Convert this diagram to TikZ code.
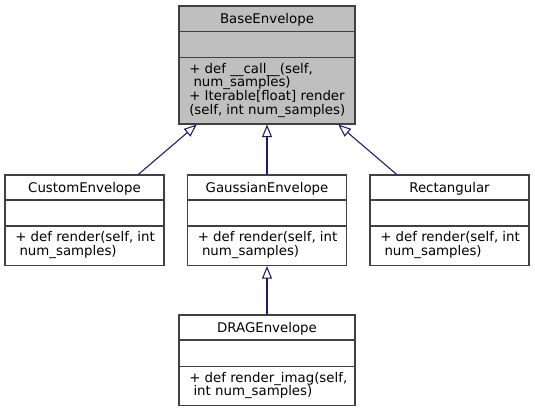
\documentclass[tikz,border=0pt]{standalone}
\usepackage{fontspec}
\setmainfont{DejaVu Sans}
\usetikzlibrary{arrows.meta,fit}
\definecolor{edgeblue}{HTML}{191970}
\definecolor{basegray}{HTML}{BFBFBF}
\definecolor{boxline}{HTML}{404040}
\begin{document}
\begin{tikzpicture}[x=0.75pt,y=-0.75pt,
  cls/.style={draw=boxline, line width=0.8pt, inner sep=0pt},
  sepline/.style={draw=boxline, line width=0.8pt},
  ttl/.style={anchor=base, inner sep=0pt, font=\fontsize{10}{12}\selectfont},
  mth/.style={anchor=base west, inner sep=0pt, font=\fontsize{10}{12}\selectfont},
  edge/.style={draw=edgeblue, line width=0.8pt, -{Triangle[open,length=9.5pt,width=7.5pt]}}]
\useasboundingbox (0,0) rectangle (535,412);

% BaseEnvelope
\node[cls, fill=basegray, fit={(179,6) (355,124)}] (base) {};
\draw[sepline] (179,31.7) -- (355,31.7);
\draw[sepline] (179,57.3) -- (355,57.3);
\node[ttl] (baset) at (267,23) {BaseEnvelope};
\node[mth] (basem1) at (189,73) {+ def \_\_call\_\_(self,};
\node[mth] (basem2) at (189,86) {\ num\_samples)};
\node[mth] (basem3) at (189,100.5) {+ Iterable[float] render};
\node[mth] (basem4) at (189,114.5) {(self, int num\_samples)};

% CustomEnvelope
\node[cls, fill=white, fit={(5,175) (164,265.5)}] (custom) {};
\draw[sepline] (5,200) -- (164,200);
\draw[sepline] (5,226) -- (164,226);
\node[ttl] (customt) at (84.5,192) {CustomEnvelope};
\node[mth] (customm1) at (15,241.7) {+ def render(self, int};
\node[mth] (customm2) at (15,255.3) {\ num\_samples)};

% GaussianEnvelope
\node[cls, fill=white, fit={(187.5,175) (346.5,265.5)}] (gauss) {};
\draw[sepline] (187.5,200) -- (346.5,200);
\draw[sepline] (187.5,226) -- (346.5,226);
\node[ttl] (gausst) at (267,192) {GaussianEnvelope};
\node[mth] (gaussm1) at (197.5,241.7) {+ def render(self, int};
\node[mth] (gaussm2) at (197.5,255.3) {\ num\_samples)};

% Rectangular
\node[cls, fill=white, fit={(370,175) (529,265.5)}] (rect) {};
\draw[sepline] (370,200) -- (529,200);
\draw[sepline] (370,226) -- (529,226);
\node[ttl] (rectt) at (449.5,192) {Rectangular};
\node[mth] (rectm1) at (380,241.7) {+ def render(self, int};
\node[mth] (rectm2) at (380,255.3) {\ num\_samples)};

% DRAGEnvelope
\node[cls, fill=white, fit={(179,315) (355,405.7)}] (drag) {};
\draw[sepline] (179,340) -- (355,340);
\draw[sepline] (179,366.7) -- (355,366.7);
\node[ttl] (dragt) at (267,332.3) {DRAGEnvelope};
\node[mth] (dragm1) at (189,382) {+ def render\_imag(self,};
\node[mth] (dragm2) at (189,395.5) {\ int num\_samples)};

% inheritance edges
\draw[edge] (custom.north -| 138.3,0) -- (base.south -| 196.7,0);
\draw[edge] (gauss.north) -- (base.south);
\draw[edge] (rect.north -| 396.7,0) -- (base.south -| 338.3,0);
\draw[edge] (drag.north) -- (gauss.south);
\end{tikzpicture}
\end{document}
